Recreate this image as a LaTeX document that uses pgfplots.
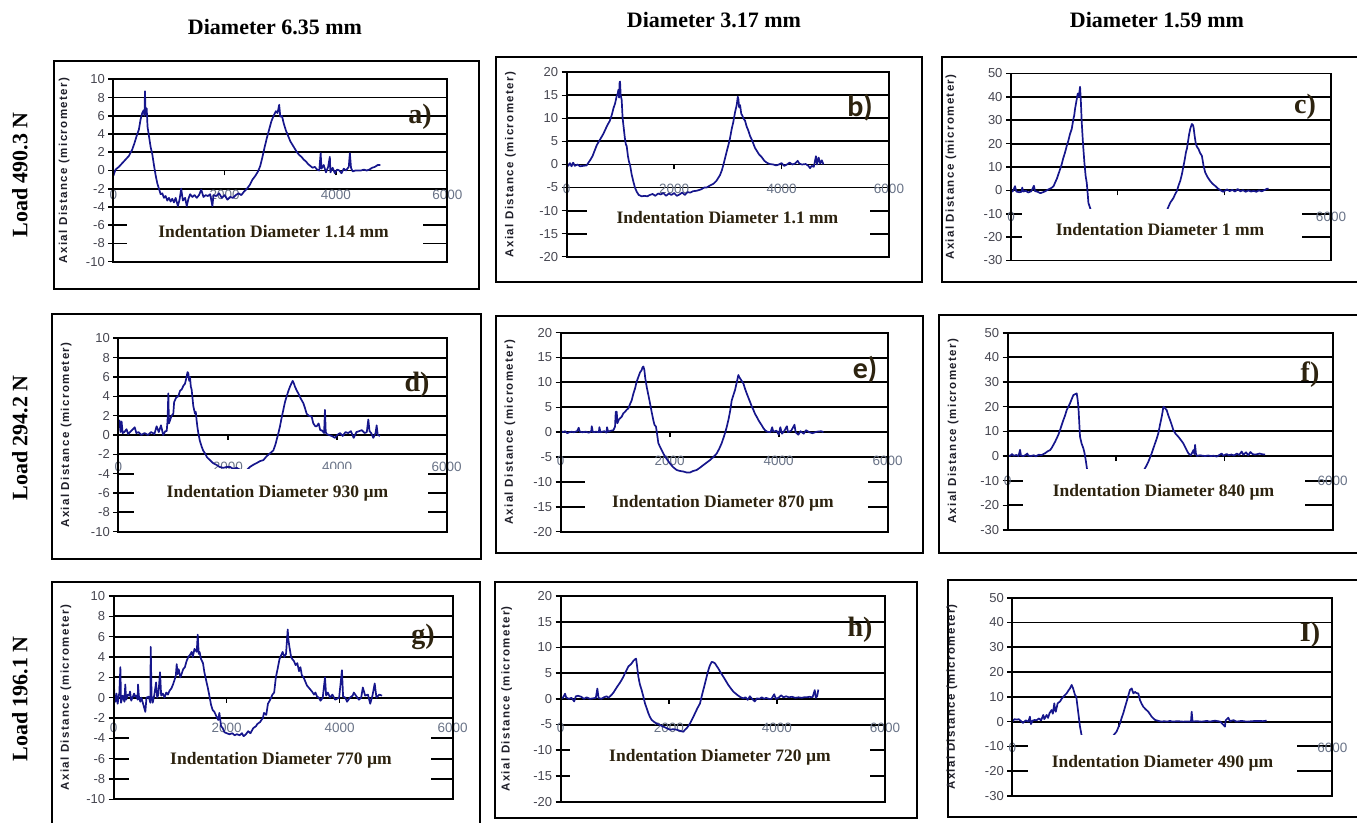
\documentclass[border=0pt]{standalone}
\usepackage{pgfplots}
\pgfplotsset{compat=1.18}
\usepackage{fontspec}
\setmainfont{Liberation Serif}
\newfontfamily\sansf{Liberation Sans}
\newfontfamily\ylabfont[LetterSpace=12]{Liberation Sans}
\newfontfamily\calib{Carlito}
\definecolor{trc}{RGB}{22,22,140}
\definecolor{ytc}{RGB}{70,70,80}
\definecolor{xtc}{RGB}{105,115,135}
\definecolor{ylc}{RGB}{30,30,40}
\definecolor{lbc}{RGB}{45,35,15}
\newcommand\xtfont{\sansf\fontsize{13.5}{13.5}\selectfont}
\newcommand\ytfont{\sansf\fontsize{13}{13}\selectfont}
\newcommand\ylfont{\ylabfont\bfseries\fontsize{11.5}{12}\selectfont}
\newcommand\labfont{\rmfamily\bfseries\fontsize{17.5}{18}\selectfont}
\newcommand\hdfont{\rmfamily\bfseries\fontsize{22}{22}\selectfont}
\newcommand\pnfont{\rmfamily\bfseries\fontsize{28}{28}\selectfont}
\newcommand\pnfontc{\calib\bfseries\fontsize{30}{30}\selectfont}
\pgfplotsset{
  panel/.style={
    scale only axis, anchor=south west,
    xmin=0, xmax=6000,
    axis x line*=middle, axis y line*=left,
    hide obscured x ticks=false, hide obscured y ticks=false,
    x axis line style={-, line width=1.9pt},
    y axis line style={-, line width=1.9pt},
    xtick={0,2000,4000,6000}, xticklabels={0,2000,4000,6000},
    tick align=outside, major tick length=5pt,
    tick style={black, line width=1.6pt},
    ymajorgrids, grid style={black, line width=1.9pt},
    xticklabel style={anchor=center, font=\xtfont, text=xtc},
    yticklabel style={font=\ytfont, text=ytc},
    ylabel={Axial Distance (micrometer)},
    ylabel style={font=\ylfont, text=ylc, anchor=center},
    extra description/.code={\draw[line width=1.9pt] (0,0) rectangle (1,1);},
    clip=true,
  },
  r1/.style={ymin=-10,ymax=10,ytick={-10,-8,-6,-4,-2,0,2,4,6,8,10},yticklabels={-10,-8,-6,-4,-2,0,2,4,6,8,10}},
  r2/.style={ymin=-20,ymax=20,ytick={-20,-15,-10,-5,0,5,10,15,20},yticklabels={-20,-15,-10,-5,0,5,10,15,20}},
  r3/.style={ymin=-30,ymax=50,ytick={-30,-20,-10,0,10,20,30,40,50},yticklabels={-30,-20,-10,0,10,20,30,40,50},
     xticklabels={0,{},{},6000}},
  trace/.style={color=trc, line width=1.7pt, no marks, line join=round},
}
\begin{document}
\begin{tikzpicture}[x=1pt,y=1pt]
\useasboundingbox (0,0) rectangle (1357,822);
% outer boxes
\begin{scope}[line width=1.9pt]
\draw (54,533) rectangle (479,761);
\draw (496,540) rectangle (922,765);
\draw (942,540) rectangle (1362,765);
\draw (52,263) rectangle (481,508);
\draw (496,269) rectangle (923,506);
\draw (939,269) rectangle (1362,507);
\draw (52,-5) rectangle (480,240);
\draw (495,4) rectangle (917,240);
\draw (948,5) rectangle (1362,242);
\end{scope}
% headers
\node[font=\hdfont] at (275,795) {Diameter 6.35 mm};
\node[font=\hdfont] at (714,802) {Diameter 3.17 mm};
\node[font=\hdfont] at (1157,802) {Diameter 1.59 mm};
\node[font=\hdfont, rotate=90] at (20,647) {Load 490.3 N};
\node[font=\hdfont, rotate=90] at (20,384) {Load 294.2 N};
\node[font=\hdfont, rotate=90] at (20,123) {Load 196.1 N};

% ---------- a ----------
\begin{axis}[panel, r1, at={(113.3pt,560.3pt)}, width=334pt, height=182.4pt,
  xticklabel style={yshift=-19pt}, ylabel style={at={(axis description cs:-0.147,0.5)}}]
\addplot[trace] coordinates {(0,-0.6) (40,0.1) (100,0.4) (160,0.8) (220,1.2) (280,1.6) (340,2.3) (380,3.0) (420,3.8) (460,4.5) (490,5.6) (520,6.3) (545,6.6) (560,6.0) (569,8.7) (580,6.2) (600,6.8) (615,4.8) (640,3.8) (670,2.6) (700,1.8) (730,0.6) (760,-0.5) (790,-1.4) (820,-2.0) (850,-2.6) (880,-2.5) (910,-3.0) (940,-2.8) (970,-3.3) (1000,-3.0) (1030,-3.4) (1060,-3.1) (1090,-3.5) (1120,-3.0) (1160,-3.9) (1190,-3.2) (1220,-2.0) (1250,-3.3) (1290,-3.0) (1320,-3.9) (1350,-3.1) (1380,-2.6) (1420,-2.9) (1460,-2.7) (1500,-3.0) (1540,-2.7) (1580,-2.1) (1620,-2.9) (1660,-2.7) (1700,-2.8) (1740,-2.6) (1780,-3.9) (1800,-2.7) (1850,-2.8) (1900,-2.5) (1950,-3.0) (2000,-2.7) (2050,-3.2) (2100,-2.9) (2150,-3.0) (2200,-2.7) (2250,-2.5) (2300,-2.7) (2350,-2.3) (2400,-2.0) (2450,-1.6) (2500,-1.0) (2550,-0.6) (2600,-0.1) (2640,0.5) (2680,1.5) (2720,2.6) (2760,3.6) (2800,4.5) (2840,5.4) (2880,6.0) (2920,6.5) (2950,6.3) (2980,7.2) (3000,5.9) (3030,6.0) (3060,5.2) (3100,4.4) (3140,3.8) (3180,3.2) (3220,2.8) (3260,2.4) (3300,2.0) (3340,1.7) (3380,1.5) (3420,1.2) (3460,1.0) (3500,0.7) (3540,0.5) (3580,0.3) (3620,0.4) (3660,0.1) (3700,0.0) (3725,1.9) (3740,0.2) (3780,0.6) (3820,-0.2) (3860,0.4) (3890,1.5) (3900,-0.2) (3940,0.3) (3980,-0.3) (4020,0.1) (4060,0.0) (4100,-0.3) (4140,0.2) (4180,0.0) (4230,0.4) (4250,1.9) (4270,0.3) (4300,-0.1) (4350,0.0) (4400,0.0) (4450,0.0) (4500,0.1) (4550,0.0) (4600,0.1) (4650,0.3) (4700,0.4) (4750,0.6) (4800,0.6)};
\coordinate (a1) at (axis cs:251,-9.2);
\coordinate (a2) at (axis cs:5569,-4.7);
\end{axis}
\fill[white] (a1) rectangle (a2);
\node[font=\labfont, text=lbc] at (273.5,590) {Indentation Diameter 1.14 mm};
\node[font=\pnfont, text=lbc] at (420,705) {a)};

% ---------- b ----------
\begin{axis}[panel, r2, at={(566.7pt,565.3pt)}, width=322.3pt, height=184.4pt,
  xticklabel style={yshift=-19pt}, ylabel style={at={(axis description cs:-0.175,0.5)}}]
\addplot[trace] coordinates {(0,0.4) (30,-0.3) (60,0.3) (90,-0.4) (120,0.4) (150,-0.3) (200,0.0) (250,-0.4) (300,-0.3) (370,-0.2) (410,0.5) (440,1.0) (480,1.8) (520,3.0) (560,4.2) (600,5.0) (640,5.8) (680,6.6) (720,7.6) (760,8.6) (800,9.4) (840,10.8) (870,12.2) (900,13.2) (930,14.8) (950,15.4) (962,16.2) (975,14.5) (985,17.8) (993,18.0) (1005,15.0) (1024,14.0) (1040,10.2) (1055,8.6) (1080,6.0) (1100,4.4) (1117,4.0) (1140,1.8) (1160,0.6) (1179,-0.1) (1210,-2.2) (1241,-3.7) (1270,-5.0) (1303,-5.9) (1340,-6.6) (1396,-6.9) (1450,-6.8) (1500,-6.9) (1550,-6.6) (1600,-6.4) (1650,-6.8) (1700,-6.3) (1750,-6.5) (1800,-6.2) (1850,-6.8) (1900,-6.3) (1950,-6.6) (2000,-6.2) (2050,-6.8) (2100,-6.5) (2150,-6.1) (2200,-6.6) (2250,-6.0) (2300,-6.1) (2350,-5.8) (2420,-5.7) (2500,-5.4) (2560,-5.0) (2606,-5.0) (2660,-4.6) (2730,-4.2) (2790,-3.5) (2854,-2.3) (2890,-1.2) (2916,-0.1) (2950,1.5) (2978,2.8) (3010,4.2) (3040,5.7) (3070,7.6) (3103,9.3) (3135,11.4) (3165,12.9) (3185,14.7) (3196,14.2) (3210,12.4) (3227,12.9) (3250,11.0) (3270,10.6) (3289,10.0) (3320,9.5) (3351,8.2) (3380,7.4) (3413,6.2) (3445,5.4) (3475,4.5) (3505,3.6) (3537,3.0) (3580,2.2) (3630,1.6) (3680,0.8) (3723,0.4) (3780,0.1) (3847,0.0) (3900,-0.2) (3950,0.0) (4000,0.3) (4050,-0.3) (4100,0.0) (4150,0.4) (4200,0.0) (4250,0.2) (4300,0.8) (4330,0.2) (4380,0.0) (4450,0.1) (4500,-0.3) (4530,-0.8) (4560,-0.3) (4600,-0.5) (4640,1.8) (4660,0.0) (4690,1.5) (4720,0.2) (4750,0.9) (4780,0.0)};
\coordinate (b1) at (axis cs:372,-18);
\coordinate (b2) at (axis cs:5646,-7.6);
\end{axis}
\fill[white] (b1) rectangle (b2);
\node[font=\labfont, text=lbc] at (727.5,604) {Indentation Diameter 1.1 mm};
\node[font=\pnfontc, text=lbc] at (860,714) {b)};

% ---------- c ----------
\begin{axis}[panel, r3, at={(1011pt,561.5pt)}, width=320pt, height=187pt,
  xticklabel style={yshift=-21.7pt}, ylabel style={at={(axis description cs:-0.1875,0.5)}}]
\addplot[trace] coordinates {(0,-0.7) (40,-0.2) (75,1.8) (100,-0.5) (150,-0.8) (200,-0.6) (210,1.2) (230,-0.5) (280,-0.2) (320,-0.9) (380,-0.4) (430,2.0) (450,-0.3) (500,-0.6) (550,-1.2) (600,-0.8) (640,-0.4) (700,0.4) (763,1.1) (800,1.9) (826,3.3) (860,5.0) (888,6.9) (920,9.0) (951,11.2) (980,13.8) (1013,16.2) (1045,19.0) (1076,21.3) (1105,24.0) (1139,26.3) (1170,30.6) (1185,32.0) (1201,34.9) (1225,38.0) (1251,41.4) (1270,40.0) (1295,44.3) (1310,38.0) (1326,29.2) (1350,20.0) (1376,11.9) (1400,6.0) (1420,3.3) (1440,-2.0) (1451,-5.3) (1483,-7.5) (1520,-10) (1600,-12) (1700,-13) (1900,-14) (2200,-14) (2500,-13) (2800,-11) (2900,-9.5) (2935,-7.9) (2985,-5.3) (3047,-3.2) (3080,-1.5) (3110,-0.3) (3140,2.0) (3172,4.0) (3205,7.0) (3235,10.5) (3260,13.5) (3279,16.2) (3300,18.0) (3316,20.5) (3340,24.0) (3360,26.3) (3391,28.4) (3410,28.0) (3423,27.0) (3445,23.0) (3466,19.8) (3490,18.5) (3516,17.7) (3545,16.0) (3579,14.8) (3610,10.5) (3642,7.6) (3690,5.5) (3735,4.0) (3780,2.8) (3829,1.9) (3880,0.8) (3923,0.1) (3980,-0.6) (4050,0.4) (4100,-0.3) (4150,0.2) (4200,-0.5) (4250,0.6) (4300,-0.4) (4350,0.1) (4400,-0.6) (4450,0.0) (4500,-0.5) (4550,-0.2) (4600,-0.6) (4650,0.0) (4700,-0.4) (4760,0.2) (4800,0.7) (4830,0.7)};
\coordinate (c1) at (axis cs:200,-27);
\coordinate (c2) at (axis cs:5456,-8.0);
\end{axis}
\fill[white] (c1) rectangle (c2);
\node[font=\labfont, text=lbc] at (1160,592) {Indentation Diameter 1 mm};
\node[font=\pnfont, text=lbc] at (1305,715) {c)};

% ---------- d ----------
\begin{axis}[panel, r1, at={(118.3pt,290.3pt)}, width=328.4pt, height=193.4pt,
  xticklabel style={yshift=-26.7pt}, ylabel style={at={(axis description cs:-0.159,0.5)}}]
\addplot[trace] coordinates {(0,1.2) (20,1.5) (40,0.3) (60,1.4) (80,0.2) (110,0.3) (150,0.6) (180,0.1) (250,0.5) (300,0.8) (330,0.2) (370,0.3) (420,0.0) (480,0.2) (540,0.0) (600,0.3) (660,0.1) (700,0.9) (740,0.3) (780,1.0) (820,0.0) (860,0.4) (884,0.4) (900,1.5) (914,4.3) (925,1.2) (944,1.5) (975,2.0) (1005,2.2) (1020,3.4) (1036,3.6) (1060,3.9) (1096,4.0) (1130,4.6) (1157,4.7) (1190,5.1) (1218,5.3) (1240,5.8) (1265,6.5) (1279,6.4) (1295,5.6) (1310,6.0) (1325,5.0) (1340,4.7) (1370,3.0) (1401,2.2) (1416,2.4) (1431,1.5) (1446,0.8) (1462,0.2) (1490,-0.6) (1523,-1.2) (1550,-1.6) (1584,-1.9) (1620,-2.3) (1675,-2.6) (1730,-2.9) (1797,-3.1) (1850,-3.3) (1919,-3.4) (1980,-3.3) (2040,-3.3) (2100,-3.5) (2162,-3.4) (2230,-3.6) (2284,-3.7) (2350,-3.6) (2406,-3.3) (2460,-3.1) (2528,-2.9) (2590,-2.7) (2650,-2.6) (2710,-2.2) (2771,-1.9) (2832,-1.6) (2870,-1.0) (2893,-0.5) (2925,0.2) (2954,0.9) (2985,1.8) (3015,2.6) (3045,3.4) (3076,4.0) (3110,4.6) (3137,5.0) (3160,5.3) (3186,5.6) (3210,5.3) (3228,5.0) (3260,4.6) (3289,4.3) (3330,3.8) (3380,3.3) (3410,2.8) (3441,2.2) (3480,2.0) (3533,1.9) (3563,1.2) (3600,0.9) (3624,0.9) (3660,1.2) (3690,0.5) (3716,0.5) (3760,0.2) (3776,2.6) (3790,0.3) (3807,0.1) (3850,0.0) (3900,-0.1) (3959,-0.3) (4000,0.0) (4050,0.2) (4100,-0.1) (4150,0.3) (4200,0.2) (4250,0.4) (4300,-0.3) (4350,0.3) (4400,0.4) (4450,0.5) (4500,0.2) (4540,0.3) (4568,1.6) (4590,0.4) (4620,0.2) (4660,-0.3) (4700,0.2) (4720,1.0) (4740,0.0) (4781,-0.1)};
\coordinate (d1) at (axis cs:286,-9.2);
\coordinate (d2) at (axis cs:5665,-3.55);
\end{axis}
\fill[white] (d1) rectangle (d2);
\node[font=\labfont, text=lbc] at (277.5,329) {Indentation Diameter 930 µm};
\node[font=\pnfont, text=lbc] at (417,437) {d)};

% ---------- e ----------
\begin{axis}[panel, r2, at={(560.7pt,290.3pt)}, width=327pt, height=199pt,
  xticklabel style={yshift=-23.9pt}, ylabel style={at={(axis description cs:-0.155,0.5)}}]
\addplot[trace] coordinates {(0,0.3) (40,0.0) (80,0.2) (120,-0.2) (160,0.0) (200,0.1) (240,0.0) (300,0.2) (330,0.9) (350,0.1) (400,0.0) (460,0.1) (520,-0.1) (560,0.2) (570,1.2) (590,0.0) (650,0.1) (700,0.0) (710,1.0) (730,0.0) (800,0.2) (840,-0.1) (850,1.0) (870,0.1) (920,0.3) (966,0.4) (997,1.1) (1010,4.1) (1028,4.1) (1040,1.8) (1070,2.6) (1119,3.1) (1150,3.8) (1180,4.1) (1210,4.5) (1242,4.8) (1270,5.6) (1303,6.4) (1335,7.8) (1364,8.8) (1395,10.2) (1425,11.1) (1455,12.0) (1486,12.5) (1500,13.0) (1517,13.2) (1535,12.5) (1550,11.0) (1578,9.1) (1610,7.4) (1639,5.8) (1670,4.0) (1700,2.4) (1720,1.5) (1749,1.1) (1770,-0.5) (1792,-2.2) (1820,-2.9) (1853,-3.6) (1885,-4.3) (1914,-4.9) (1960,-5.6) (2006,-6.3) (2060,-7.0) (2128,-7.6) (2190,-7.8) (2251,-7.9) (2310,-8.1) (2373,-8.1) (2430,-7.8) (2495,-7.6) (2560,-7.1) (2618,-6.6) (2680,-6.1) (2740,-5.6) (2800,-5.0) (2862,-4.3) (2910,-3.3) (2954,-2.2) (2985,-1.2) (3015,-0.2) (3045,1.0) (3076,2.4) (3108,4.2) (3138,6.4) (3170,7.5) (3199,8.5) (3230,10.0) (3250,11.0) (3260,11.5) (3275,11.1) (3310,10.5) (3352,9.8) (3380,8.8) (3413,7.8) (3445,6.9) (3474,6.1) (3505,5.2) (3535,4.5) (3565,3.7) (3596,3.1) (3640,2.2) (3688,1.4) (3720,0.8) (3749,0.4) (3790,0.1) (3850,0.0) (3880,1.0) (3900,0.1) (3960,0.3) (4000,-0.5) (4030,1.0) (4060,-0.3) (4100,0.2) (4150,1.2) (4170,0.0) (4230,0.3) (4290,1.5) (4310,0.0) (4360,-0.5) (4400,0.2) (4460,-0.3) (4500,0.4) (4560,0.0) (4620,-0.2) (4700,0.1) (4780,0.2) (4820,0.0)};
\coordinate (e1) at (axis cs:446,-18);
\coordinate (e2) at (axis cs:5633,-8.6);
\end{axis}
\fill[white] (e1) rectangle (e2);
\node[font=\labfont, text=lbc] at (723,319) {Indentation Diameter 870 µm};
\node[font=\pnfontc, text=lbc] at (865,452) {e)};

% ---------- f ----------
\begin{axis}[panel, r3, at={(1007.7pt,292pt)}, width=325pt, height=197.3pt,
  xticklabel style={yshift=-19.7pt}, ylabel style={at={(axis description cs:-0.168,0.5)}}]
\addplot[trace] coordinates {(0,0.4) (40,0.0) (80,0.8) (110,0.1) (160,0.4) (200,0.0) (228,2.5) (245,0.2) (290,0.0) (330,0.4) (360,1.0) (380,0.2) (430,0.0) (480,0.3) (520,-0.1) (570,0.5) (628,0.4) (660,0.8) (689,1.1) (730,1.8) (782,2.4) (810,3.2) (843,4.5) (875,5.8) (905,7.2) (935,8.6) (966,10.5) (1000,12.8) (1028,14.6) (1060,16.5) (1089,18.6) (1120,20.0) (1151,21.4) (1180,23.0) (1212,24.7) (1240,25.0) (1274,25.4) (1290,23.0) (1305,20.0) (1320,14.0) (1335,7.8) (1365,5.0) (1397,3.1) (1420,1.0) (1440,-1.6) (1465,-5.4) (1500,-8) (1700,-12) (2000,-14) (2300,-12) (2450,-9) (2523,-5.4) (2560,-4.0) (2597,-2.3) (2630,-0.5) (2658,1.1) (2690,3.2) (2720,5.1) (2750,7.0) (2781,9.2) (2810,12.5) (2843,15.9) (2860,18.0) (2874,20.0) (2900,19.5) (2935,18.6) (2965,16.5) (2997,14.6) (3030,12.5) (3058,10.5) (3100,9.0) (3151,7.8) (3200,6.4) (3243,5.1) (3290,3.0) (3335,1.1) (3380,0.2) (3428,2.4) (3445,0.8) (3459,4.5) (3475,1.0) (3490,0.0) (3550,0.3) (3600,0.1) (3650,0.0) (3700,0.2) (3750,0.0) (3800,0.1) (3860,-0.2) (3900,0.3) (3950,1.0) (3980,0.1) (4040,0.8) (4080,0.3) (4130,0.6) (4180,0.2) (4230,1.0) (4270,0.4) (4320,1.8) (4350,0.5) (4400,1.5) (4440,0.3) (4480,1.6) (4520,0.8) (4560,0.6) (4600,0.7) (4650,1.0) (4700,0.7) (4751,0.6)};
\coordinate (f1) at (axis cs:289,-27);
\coordinate (f2) at (axis cs:5489,-5.2);
\end{axis}
\fill[white] (f1) rectangle (f2);
\node[font=\labfont, text=lbc] at (1163.5,330) {Indentation Diameter 840 µm};
\node[font=\pnfont, text=lbc] at (1310,447) {f)};

% ---------- g ----------
\begin{axis}[panel, r1, at={(113.7pt,22.7pt)}, width=339pt, height=203.3pt,
  xticklabel style={yshift=-25.7pt}, ylabel style={at={(axis description cs:-0.141,0.5)}}]
\addplot[trace] coordinates {(0,2.2) (12,0.1) (30,-0.4) (50,0.4) (70,-0.6) (100,0.5) (118,3.0) (130,-0.5) (160,0.2) (190,-0.4) (205,1.3) (220,-0.2) (250,0.3) (275,0.2) (290,0.6) (310,-0.3) (340,0.1) (360,0.4) (380,0.1) (400,0.2) (425,-0.2) (430,1.3) (445,0.2) (470,-0.4) (490,0.0) (530,-0.8) (560,-1.4) (580,0.0) (620,0.1) (649,-0.5) (655,5.0) (670,0.2) (690,-0.5) (720,0.3) (750,1.5) (770,0.0) (790,0.3) (800,1.0) (820,2.5) (840,0.2) (870,0.4) (900,0.0) (930,0.5) (960,0.3) (990,0.7) (1020,0.9) (1050,1.3) (1080,1.8) (1100,2.2) (1115,3.3) (1130,2.3) (1150,2.8) (1180,2.0) (1200,2.3) (1230,2.8) (1260,3.0) (1290,3.6) (1320,4.0) (1350,4.2) (1380,4.5) (1400,4.0) (1430,4.8) (1470,4.5) (1487,6.2) (1505,4.3) (1520,4.5) (1545,3.8) (1580,3.4) (1605,2.5) (1640,1.6) (1665,1.0) (1700,0.0) (1723,-0.7) (1750,-1.2) (1782,-1.4) (1815,-1.8) (1850,-2.2) (1870,-1.5) (1900,-2.8) (1930,-3.0) (1960,-3.4) (2000,-3.5) (2050,-3.6) (2100,-3.5) (2140,-3.7) (2180,-3.6) (2230,-3.7) (2270,-3.5) (2300,-3.8) (2340,-3.6) (2380,-3.3) (2420,-3.5) (2470,-3.0) (2520,-2.8) (2540,-2.6) (2590,-2.4) (2640,-2.0) (2660,-1.5) (2700,-1.7) (2730,-0.6) (2770,-0.2) (2810,0.3) (2840,0.5) (2870,2.0) (2900,2.8) (2935,3.8) (2990,4.5) (3020,4.0) (3050,4.3) (3080,6.7) (3090,5.8) (3110,5.0) (3140,4.0) (3160,3.8) (3190,3.6) (3220,3.2) (3250,3.4) (3280,2.6) (3305,3.0) (3330,2.2) (3360,2.0) (3390,1.6) (3420,1.2) (3450,1.0) (3480,0.8) (3510,0.6) (3545,0.3) (3570,0.5) (3600,0.1) (3630,0.0) (3660,-0.3) (3700,0.0) (3740,2.0) (3760,0.2) (3790,0.5) (3830,0.0) (3870,0.3) (3920,-0.2) (3990,0.0) (4040,2.7) (4060,0.1) (4100,0.0) (4130,-0.4) (4180,0.0) (4230,0.2) (4250,0.5) (4300,0.1) (4340,-0.2) (4380,0.0) (4410,1.0) (4450,0.2) (4500,0.3) (4540,-0.6) (4580,0.2) (4620,1.4) (4650,0.0) (4700,0.3) (4750,0.2)};
\coordinate (g1) at (axis cs:277,-9.2);
\coordinate (g2) at (axis cs:5617,-3.9);
\end{axis}
\fill[white] (g1) rectangle (g2);
\node[font=\labfont, text=lbc] at (281,62) {Indentation Diameter 770 µm};
\node[font=\pnfont, text=lbc] at (423,185) {g)};

% ---------- h ----------
\begin{axis}[panel, r2, at={(560.7pt,20.3pt)}, width=324.3pt, height=205.7pt,
  xticklabel style={yshift=-23.8pt}, ylabel style={at={(axis description cs:-0.167,0.5)}}]
\addplot[trace] coordinates {(0,0.0) (40,0.2) (80,1.0) (100,0.3) (150,0.0) (200,0.2) (250,-0.5) (280,0.5) (320,0.6) (380,0.4) (430,0.0) (480,0.3) (540,0.0) (600,0.1) (650,0.2) (678,2.0) (700,0.2) (750,0.0) (800,0.3) (850,0.5) (882,0.2) (943,0.8) (975,1.2) (1005,1.7) (1035,2.2) (1067,2.7) (1100,3.2) (1128,3.7) (1160,4.3) (1190,5.0) (1220,5.6) (1252,6.3) (1285,6.6) (1313,6.9) (1345,7.4) (1375,7.7) (1395,7.8) (1410,6.6) (1437,4.3) (1465,2.8) (1498,1.7) (1530,0.4) (1560,-0.9) (1590,-1.8) (1622,-2.8) (1650,-3.5) (1683,-4.1) (1730,-4.5) (1776,-4.8) (1840,-5.1) (1899,-5.4) (1960,-5.7) (2022,-6.0) (2080,-5.9) (2146,-6.0) (2200,-6.2) (2269,-6.4) (2300,-6.0) (2331,-5.7) (2360,-5.3) (2392,-4.8) (2440,-3.8) (2485,-2.8) (2530,-1.8) (2577,-0.9) (2620,1.0) (2670,3.0) (2700,4.3) (2732,5.6) (2760,6.5) (2793,7.2) (2825,7.1) (2855,6.9) (2885,6.4) (2917,5.9) (2960,5.1) (3009,4.3) (3055,3.5) (3101,2.7) (3150,2.0) (3194,1.4) (3240,1.0) (3287,0.6) (3330,0.3) (3379,0.1) (3420,0.3) (3460,-0.2) (3500,0.5) (3540,0.0) (3590,-0.5) (3630,0.1) (3680,0.0) (3720,0.3) (3760,0.0) (3800,0.2) (3850,0.0) (3900,0.0) (3950,0.9) (3980,0.0) (4030,0.2) (4080,0.7) (4120,0.3) (4170,0.5) (4220,0.3) (4280,0.4) (4340,0.2) (4400,0.3) (4460,0.2) (4500,0.3) (4550,0.3) (4600,0.4) (4660,0.3) (4700,1.7) (4720,0.2) (4745,0.5) (4766,1.8)};
\coordinate (h1) at (axis cs:173,-18);
\coordinate (h2) at (axis cs:5722,-7.2);
\end{axis}
\fill[white] (h1) rectangle (h2);
\node[font=\labfont, text=lbc] at (720,65) {Indentation Diameter 720 µm};
\node[font=\pnfont, text=lbc] at (860,192) {h)};

% ---------- i ----------
\begin{axis}[panel, r3, at={(1012.3pt,26pt)}, width=320pt, height=198.3pt,
  xticklabel style={yshift=-21.7pt}, ylabel style={at={(axis description cs:-0.189,0.5)}}]
\addplot[trace] coordinates {(0,0.0) (40,1.0) (80,0.8) (120,1.0) (160,0.3) (200,-0.5) (250,0.5) (300,0.0) (330,2.0) (350,-1.0) (380,0.4) (420,0.7) (450,0.5) (500,1.3) (540,0.5) (580,2.7) (600,1.0) (644,2.7) (670,1.5) (700,3.5) (738,4.7) (760,3.2) (788,7.4) (800,4.8) (815,4.0) (850,7.4) (894,8.1) (925,9.2) (956,10.0) (990,10.8) (1019,11.4) (1050,12.5) (1081,13.4) (1113,14.8) (1140,13.4) (1175,10.8) (1200,10.0) (1238,3.4) (1269,-2.0) (1300,-5.6) (1330,-8) (1500,-12) (1700,-12) (1850,-9) (1894,-5.6) (1956,-4.0) (2019,-0.7) (2050,1.5) (2081,3.4) (2115,6.0) (2144,8.1) (2175,10.5) (2206,12.8) (2238,13.4) (2270,11.4) (2300,12.0) (2330,11.5) (2363,11.4) (2394,8.7) (2425,7.2) (2456,6.0) (2500,5.0) (2550,4.0) (2613,2.0) (2675,0.7) (2740,0.3) (2800,0.0) (2850,0.2) (2900,0.0) (2960,0.3) (3000,0.0) (3100,0.2) (3200,0.0) (3300,0.1) (3350,0.0) (3363,4.0) (3380,0.0) (3450,0.2) (3550,0.0) (3650,0.3) (3700,0.0) (3800,0.4) (3900,0.0) (3988,-2.0) (4000,0.5) (4050,1.6) (4080,0.2) (4150,0.6) (4200,0.0) (4300,0.3) (4400,0.0) (4500,0.2) (4600,0.3) (4700,0.2) (4769,0.4)};
\coordinate (i1) at (axis cs:300,-26);
\coordinate (i2) at (axis cs:5331,-5.5);
\end{axis}
\fill[white] (i1) rectangle (i2);
\node[font=\labfont, text=lbc] at (1162.5,59) {Indentation Diameter 490 µm};
\node[font=\pnfont, text=lbc] at (1310,187) {I)};
\end{tikzpicture}
\end{document}
